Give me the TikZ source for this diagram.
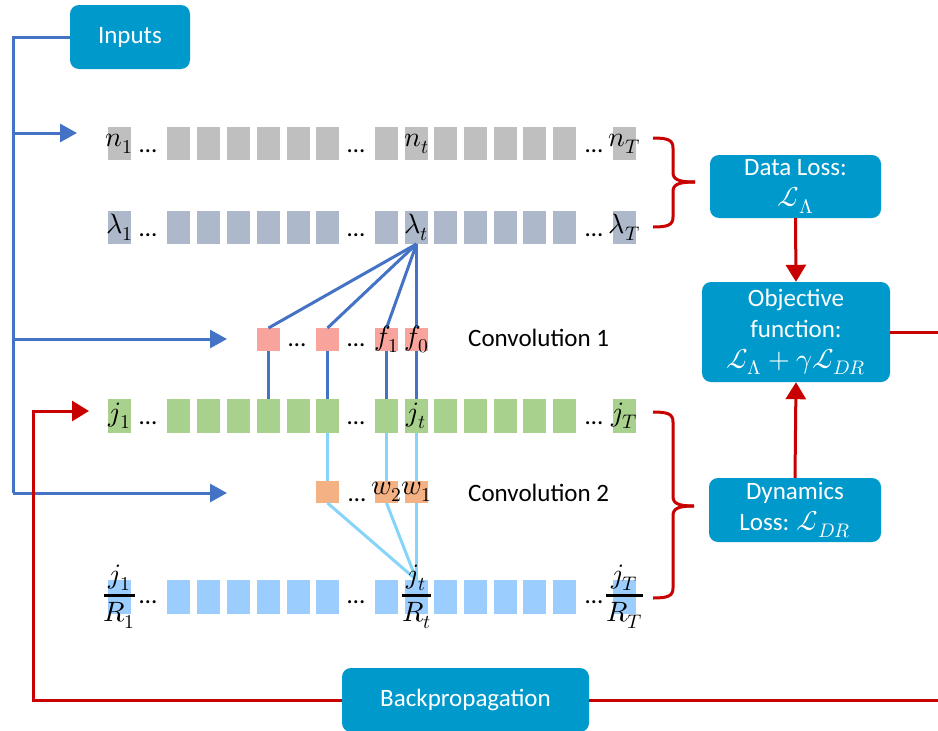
\documentclass[tikz,border=0pt]{standalone}
\usepackage{amsmath}
\usepackage{fontspec}
\usepackage{unicode-math}
\setmainfont{Carlito}
\setmathfont{Latin Modern Math}[Scale=1.12]
\usetikzlibrary{arrows.meta}

\definecolor{boxblue}{RGB}{0,153,204}
\definecolor{lineblue}{RGB}{68,114,196}
\definecolor{lightline}{RGB}{135,212,250}
\definecolor{redline}{RGB}{200,0,0}
\definecolor{sqgray}{RGB}{191,191,191}
\definecolor{sqlam}{RGB}{173,185,202}
\definecolor{sqred}{RGB}{248,163,155}
\definecolor{sqgreen}{RGB}{169,209,142}
\definecolor{sqorange}{RGB}{244,177,131}
\definecolor{sqblue}{RGB}{155,205,255}

\begin{document}
\begin{tikzpicture}[x=1pt,y=-1pt,
  font=\fontsize{25}{31}\selectfont,
  sq/.style={rectangle,inner sep=0pt,outer sep=0pt,minimum width=23pt,anchor=north west},
  lab/.style={inner sep=0pt,anchor=center},
  dotsn/.style={inner sep=0pt,anchor=base},
  bbox/.style={rectangle,rounded corners=9pt,fill=boxblue,text=white,align=center,inner sep=0pt},
  bl/.style={draw=lineblue,line width=3pt},
  lb/.style={draw=lightline,line width=3pt},
  rl/.style={draw=redline,line width=3pt},
  barrow/.style={-{Triangle[length=17pt,width=18pt]}},
  rarrow/.style={-{Triangle[length=17pt,width=20pt]}},
]
\fill[white] (0,0) rectangle (938,731);
\useasboundingbox (0,0) rectangle (938,731);

% boxes
\node[bbox,minimum width=120pt,minimum height=64pt] (inp) at (130,37) {Inputs};
\node[bbox,minimum width=171pt,minimum height=63pt] (dl) at (795.5,186.5) {Data Loss:\\$\mathcal{L}_{\Lambda}$};
\node[bbox,minimum width=188pt,minimum height=100pt] (obj) at (796,332) {Objective\\function:\\$\mathcal{L}_{\Lambda}+\gamma\mathcal{L}_{DR}$};
\node[bbox,minimum width=172pt,minimum height=64pt] (dyn) at (795,510) {Dynamics\\Loss: $\mathcal{L}_{DR}$};
\node[bbox,minimum width=247pt,minimum height=64pt] (bp) at (465.5,700) {Backpropagation};

% rows of squares
\foreach \i/\x in {0/108,1/167,2/197,3/227,4/257,5/287,6/316,7/375,8/405,9/434,10/464,11/494,12/523,13/553,14/613}{
  \node[sq,fill=sqgray,minimum height=33pt] (n\i) at (\x,127) {};
  \node[sq,fill=sqlam,minimum height=33pt] (l\i) at (\x,211) {};
  \node[sq,fill=sqgreen,minimum height=34pt] (j\i) at (\x,399) {};
  \node[sq,fill=sqblue,minimum height=34pt] (r\i) at (\x,580) {};
}
\foreach \i/\x in {4/257,6/316,7/375,8/405}{
  \node[sq,fill=sqred,minimum height=23pt] (f\i) at (\x,328) {};
}
\foreach \i/\x in {6/316,7/375,8/405}{
  \node[sq,fill=sqorange,minimum height=22pt] (w\i) at (\x,481) {};
}

% convolution connectors
\foreach \i in {4,6,7,8}{
  \draw[bl] (l8.south) -- (f\i.north);
  \draw[bl] (f\i.south) -- (j\i.north);
}
\foreach \i in {6,7,8}{
  \draw[lb] (j\i.south) -- (w\i.north);
  \draw[lb] (w\i.south) -- (r8.north);
}

% input lines
\coordinate (bx) at (13,493);
\coordinate (b1) at (13,133);
\coordinate (b2) at (13,339);
\coordinate (a1) at (77,133);
\coordinate (a2) at (227,339);
\coordinate (a3) at (227,493);
\draw[bl] (inp.west) -| (bx);
\draw[bl,barrow] (bx) -- (a3);
\draw[bl,barrow] (b1) -- (a1);
\draw[bl,barrow] (b2) -- (a2);

% red lines
\coordinate (rc) at (33,411);
\coordinate (rtip) at (89,411);
\coordinate (re1) at (940,700);
\coordinate (re2) at (940,332);
\draw[rl,rarrow] (bp.west) -| (rc) -- (rtip);
\draw[rl] (bp.east) -- (re1);
\draw[rl] (obj.east) -- (re2);
\draw[rl,rarrow] (dl.south) -- (obj.north);
\draw[rl,rarrow] (dyn.north) -- (obj.south);

% braces
\draw[rl] (653,138) .. controls (668,138) and (673,140) .. (673,148) -- (673,172) .. controls (673,179) and (677,182) .. (695,182);
\draw[rl] (695,182) .. controls (677,182) and (673,185) .. (673,192) -- (673,217) .. controls (673,225) and (668,227) .. (653,227);
\draw[rl] (653,412) .. controls (668,412) and (673,414) .. (673,422) -- (673,496) .. controls (673,503) and (677,506) .. (694,506);
\draw[rl] (694,506) .. controls (677,506) and (673,509) .. (673,516) -- (673,588) .. controls (673,596) and (668,598) .. (653,598);

% labels
\node[lab] (ln1) at (n0) {$n_1$};
\node[lab] (lnt) at (n8) {$n_t$};
\node[lab] (lnT) at (n14) {$n_T$};
\node[lab] (ll1) at (l0) {$\lambda_1$};
\node[lab] (llt) at (l8) {$\lambda_t$};
\node[lab] (llT) at (l14) {$\lambda_T$};
\node[lab] (lj1) at (j0) {$j_1$};
\node[lab] (ljt) at (j8) {$j_t$};
\node[lab] (ljT) at (j14) {$j_T$};
\node[lab] (lf1) at (f7) {$f_1$};
\node[lab] (lf0) at (f8) {$f_0$};
\node[lab] (lw2) at (w7) {$w_2$};
\node[lab] (lw1) at (w8) {$w_1$};
\node[lab] (lr1) at (r0) {$\genfrac{}{}{2.5pt}{0}{j_1}{R_1}$};
\node[lab] (lrt) at (r8) {$\genfrac{}{}{2.5pt}{0}{j_t}{R_t}$};
\node[lab] (lrT) at (r14) {$\genfrac{}{}{2.5pt}{0}{j_T}{R_T}$};

% dots
\foreach \r/\y in {n/152,l/236,j/424,r/603}{
  \node[dotsn] (d\r1) at (148,\y) {…};
  \node[dotsn] (d\r2) at (356,\y) {…};
  \node[dotsn] (d\r3) at (594,\y) {…};
}
\node[dotsn] (df1) at (297,346) {…};
\node[dotsn] (df2) at (356,346) {…};
\node[dotsn] (dw1) at (357,501) {…};

% texts
\node[anchor=base west,inner sep=0pt] (cv1) at (468,346) {Convolution 1};
\node[anchor=base west,inner sep=0pt] (cv2) at (468,501) {Convolution 2};
\end{tikzpicture}
\end{document}
